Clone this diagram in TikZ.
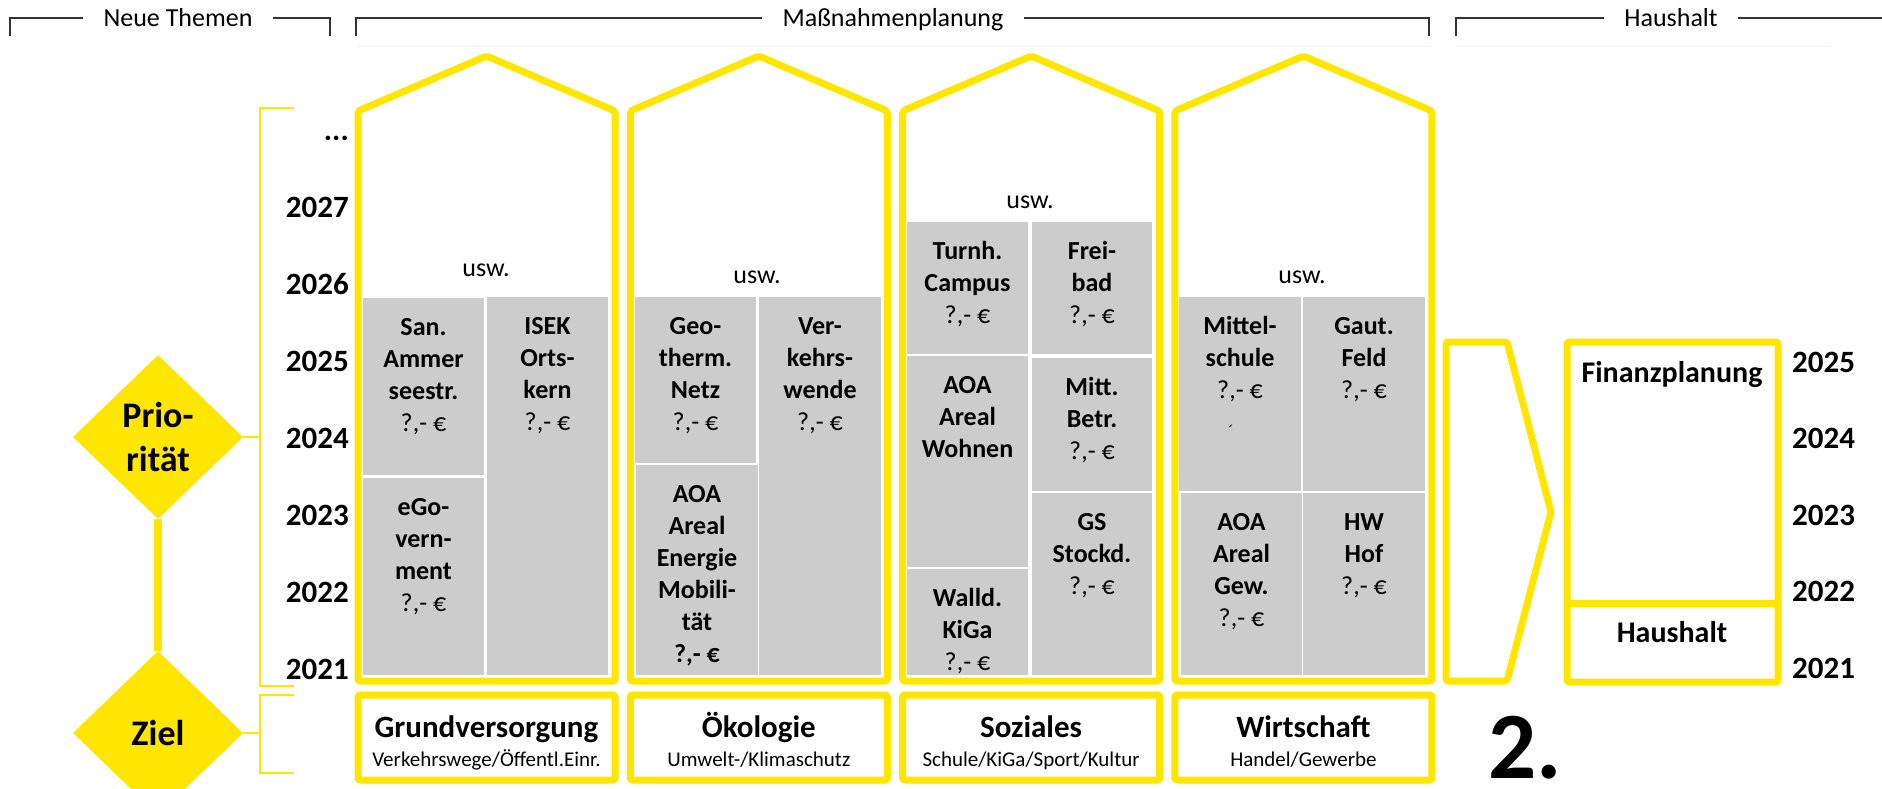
\documentclass[tikz,border=0pt]{standalone}
\usepackage{fontspec}
\setmainfont{Carlito}
\usetikzlibrary{shapes.geometric}
\definecolor{gelb}{RGB}{255,230,0}
\definecolor{kachel}{RGB}{204,204,204}
\newcommand\fs[2]{\fontsize{#1}{#2}\selectfont}
\newcommand\fl{\rule{0pt}{20pt}}
\newcommand\preis{{\mdseries ?,- €}}

\tikzset{
  saeule/.style={draw=gelb, line width=7pt, line join=round, rounded corners=2pt},
  kachelfeld/.style={fill=kachel},
  kacheltext/.style={anchor=north, align=center, inner sep=0pt, font=\fs{26}{32}\bfseries},
  jahr/.style={font=\fs{31}{31}\bfseries, inner sep=0pt},
  kopf/.style={font=\fs{26}{26}, inner xsep=20pt, inner ysep=0pt, text height=17pt, text depth=0pt},
  kopflinie/.style={black!80, line width=1.2pt},
  usw/.style={font=\fs{26}{26}, inner sep=0pt},
  raute/.style={diamond, fill=gelb, minimum width=170pt, minimum height=164pt, inner sep=0pt,
    font=\fs{36}{44}\bfseries, align=center},
  klammer/.style={draw=gelb, line width=1.5pt},
  titel/.style={anchor=base, inner sep=0pt, font=\fs{31}{31}\bfseries},
  untertitel/.style={anchor=base, inner sep=0pt, font=\fs{21}{21}},
}

% grey tile: name, x1, y1, x2, y2, text
\newcommand\kachel[6]{%
  \fill[kachelfeld] (#2,#3) rectangle (#4,#5);
  \node[kacheltext] (#1) at ({(#2+#4)/2},#3+17) {\fl#6};}

\begin{document}
\begin{tikzpicture}[x=1pt,y=-1pt]
  \useasboundingbox (0,0) rectangle (1882,789);
  \clip (0,0) rectangle (1882,789);

  % header
  \node[kopf] (neu) at (178,18) {Neue Themen};
  \draw[kopflinie] (10,36) -- (10,18) -- (neu.west);
  \draw[kopflinie] (neu.east) -- (330,18) -- (330,36);
  \node[kopf] (mass) at (893,18) {Maßnahmenplanung};
  \draw[kopflinie] (356,36) -- (356,18) -- (mass.west);
  \draw[kopflinie] (mass.east) -- (1429,18) -- (1429,36);
  \node[kopf] (haus) at (1671,18) {Haushalt};
  \draw[kopflinie] (1456,36) -- (1456,18) -- (haus.west);
  \draw[kopflinie] (haus.east) -- (1882,18);
  \draw[black!5, line width=1pt] (357,47) -- (1430,47) (1456,47) -- (1830,47);

  % left axis
  \node[raute] (prio) at (158,437) {Prio-\\rität};
  \node[raute] (ziel) at (158,733) {Ziel};
  \draw[gelb, line width=8pt] (prio.south) -- (ziel.north);
  \coordinate (kl) at (260,108);
  \draw[klammer] (294,108) -- (kl) -- (260,686) -- (294,686);
  \draw[klammer] (294,695) -- (260,695) -- (260,773) -- (294,773);
  \draw[klammer] (prio.east) -- (prio.east -| kl);
  \draw[klammer] (ziel.east) -- (ziel.east -| kl);
  \foreach \k in {0,...,6}{
    \pgfmathtruncatemacro\yr{2021+\k}
    \node[jahr, anchor=base east] (j\yr) at (349,679-76.9*\k) {\yr};
  }
  \node[jahr, anchor=base east] (jdots) at (349,141) {...};

  % columns
  \foreach \i/\t/\s in {0/Grundversorgung/{Verkehrswege/Öffentl.Einr.},
                        1/Ökologie/{Umwelt-/Klimaschutz},
                        2/Soziales/{Schule/KiGa/Sport/Kultur},
                        3/Wirtschaft/{Handel/Gewerbe}}{
    \pgfmathsetmacro\xa{358+272.3*\i}
    \pgfmathsetmacro\xb{\xa+257}
    \pgfmathsetmacro\xm{\xa+128.5}
    \draw[saeule] (\xa,681) -- (\xa,111) -- (\xm,56) -- (\xb,111) -- (\xb,681) -- cycle;
    \draw[saeule] (\xa,695) rectangle (\xb,780);
    \node[titel] (titel\i) at (\xm,737) {\t};
    \node[untertitel] (sub\i) at (\xm,766) {\s};
  }

  \node[usw] (usw1) at (486,270) {usw.};
  \kachel{san}{363}{298}{484}{475}{San.\\Ammer\\seestr.\\\preis}
  \kachel{egov}{363}{478}{484}{675}{eGo-\\vern-\\ment\\\preis}
  \kachel{isek}{487}{297}{608}{675}{ISEK\\Orts-\\kern\\\preis}

  \node[usw] (usw2) at (757,277) {usw.};
  \kachel{geo}{635}{297}{756}{463}{Geo-\\therm.\\Netz\\\preis}
  \kachel{energie}{636}{465}{758}{675}{AOA\\Areal\\Energie\\Mobili-\\tät\\?,- €}
  \kachel{verkehr}{759}{297}{881}{675}{Ver-\\kehrs-\\wende\\\preis}

  \node[usw] (usw3) at (1030,202) {usw.};
  \kachel{turnh}{907}{222}{1028}{354}{Turnh.\\Campus\\\preis}
  \kachel{frei}{1032}{222}{1152}{354}{Frei-\\bad\\\preis}
  \kachel{wohnen}{907}{356}{1028}{567}{AOA\\Areal\\Wohnen}
  \kachel{walld}{907}{569}{1028}{675}{Walld.\\KiGa\\\preis}
  \kachel{mitt}{1032}{358}{1152}{491}{Mitt.\\Betr.\\\preis}
  \kachel{gs}{1032}{493}{1152}{675}{GS\\Stockd.\\\preis}

  \node[usw] (usw4) at (1302,277) {usw.};
  \kachel{mittel}{1179}{297}{1301}{491}{Mittel-\\schule\\\preis}
  \kachel{gaut}{1303}{297}{1425}{491}{Gaut.\\Feld\\\preis}
  \kachel{gew}{1181}{493}{1302}{675}{AOA\\Areal\\Gew.\\\preis}
  \kachel{hw}{1303}{493}{1425}{675}{HW\\Hof\\\preis}
  \node[usw, font=\fs{18}{18}] (strich) at (1231,431) {´};

  % budget
  \draw[saeule] (1446,342) -- (1507,342) -- (1551,512) -- (1507,681) -- (1446,681) -- cycle;
  \draw[saeule] (1567,342) rectangle (1778,682);
  \draw[saeule] (1567,603) -- (1778,603);
  \node[titel, font=\fs{30}{30}\bfseries] (finanz) at (1672,382) {Finanzplanung};
  \node[titel, font=\fs{30}{30}\bfseries] (hh) at (1672,642) {Haushalt};
  \foreach \k in {0,...,4}{
    \pgfmathtruncatemacro\yr{2021+\k}
    \node[jahr, anchor=base west] (r\yr) at (1792,678-76.5*\k) {\yr};
  }
  \node[anchor=base west, inner sep=0pt, font=\fs{95}{95}\bfseries] (zwei) at (1488,778) {2.};
\end{tikzpicture}
\end{document}
